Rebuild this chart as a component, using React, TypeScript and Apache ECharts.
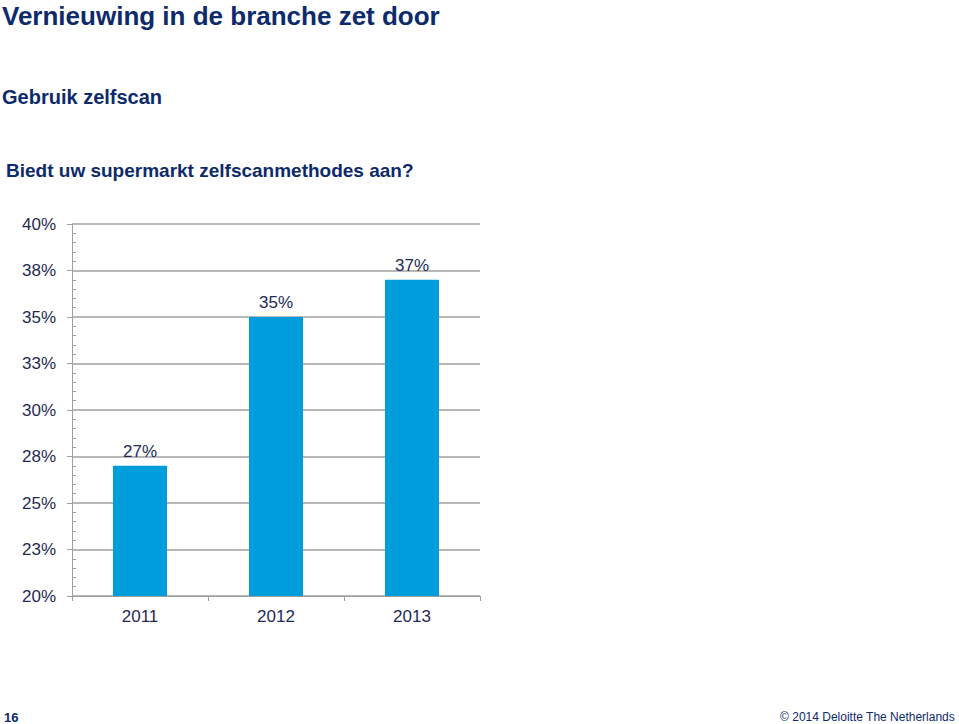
import React, { useEffect, useRef } from "react";
import * as echarts from "echarts";

const categories = ["2011", "2012", "2013"];
const values = [27, 35, 37];
const yMin = 20;
const yMax = 40;
const yStep = 2.5;

const titleText = "Vernieuwing in de branche zet door";
const subTitleText = "Gebruik zelfscan";
const questionText = "Biedt uw supermarkt zelfscanmethodes aan?";
const pageNumber = "16";
const footerText = "© 2014 Deloitte The Netherlands";

const FONT = "'Liberation Sans', Arial, sans-serif";
const NAVY = "#0d2a6b";
const LABEL = "#1f2a55";
const GRAY = "#a0a0a0";

export default function App() {
  const ref = useRef<HTMLDivElement>(null);
  useEffect(() => {
    if (!ref.current) return;
    const chart = echarts.init(ref.current, null, { renderer: "svg" });
    chart.setOption({
      animation: false,
      backgroundColor: "#ffffff",
      textStyle: { fontFamily: FONT },
      grid: { left: 72, right: 479, top: 224, bottom: 128, containLabel: false },
      xAxis: {
        type: "category",
        data: categories,
        axisLine: { show: true, lineStyle: { color: GRAY, width: 1 } },
        axisTick: { show: true, length: 5, alignWithLabel: false, lineStyle: { color: GRAY } },
        axisLabel: { color: LABEL, fontSize: 17, fontFamily: FONT, margin: 12 },
        splitLine: { show: false },
      },
      yAxis: [
        {
          type: "value",
          min: yMin,
          max: yMax,
          interval: yStep,
          axisLine: { show: true, lineStyle: { color: GRAY, width: 1 } },
          axisTick: { show: true, length: 5, lineStyle: { color: GRAY } },
          minorTick: { show: false },
          axisLabel: {
            color: LABEL,
            fontSize: 17,
            fontFamily: FONT,
            margin: 16,
            formatter: (v: number) => Math.round(v) + "%",
          },
          splitLine: { show: true, lineStyle: { color: GRAY, width: 1.5 } },
        },
        {
          type: "value",
          position: "left",
          offset: 0,
          min: yMin,
          max: yMax,
          interval: yStep,
          axisLine: { show: false },
          axisTick: { show: false, inside: true },
          minorTick: { show: true, splitNumber: 5, length: 4, lineStyle: { color: GRAY } },
          axisLabel: { show: false },
          splitLine: { show: false },
        },
      ],
      series: [
        {
          type: "bar",
          data: values,
          barWidth: 54,
          yAxisIndex: 0,
          itemStyle: { color: "#009ddd" },
          label: {
            show: true,
            position: "top",
            distance: 6,
            color: LABEL,
            fontSize: 17,
            fontFamily: FONT,
            formatter: (p: any) => p.value + "%",
          },
        },
      ],
      graphic: [
        {
          type: "text",
          left: 2,
          top: 3,
          style: { text: titleText, font: `bold 26px ${FONT}`, fill: NAVY },
        },
        {
          type: "text",
          left: 2,
          top: 87,
          style: { text: subTitleText, font: `bold 20px ${FONT}`, fill: NAVY },
        },
        {
          type: "text",
          left: 6,
          top: 161,
          style: { text: questionText, font: `bold 19px ${FONT}`, fill: NAVY },
        },
        {
          type: "text",
          left: 4,
          top: 711,
          style: { text: pageNumber, font: `bold 13px ${FONT}`, fill: NAVY },
        },
        {
          type: "text",
          right: 4,
          top: 711,
          style: { text: footerText, font: `12px ${FONT}`, fill: NAVY },
        },
      ],
    });
    return () => chart.dispose();
  }, []);
  return (
    <div
      ref={ref}
      style={{ position: "fixed", left: 0, top: 0, width: 959, height: 724 }}
    />
  );
}
